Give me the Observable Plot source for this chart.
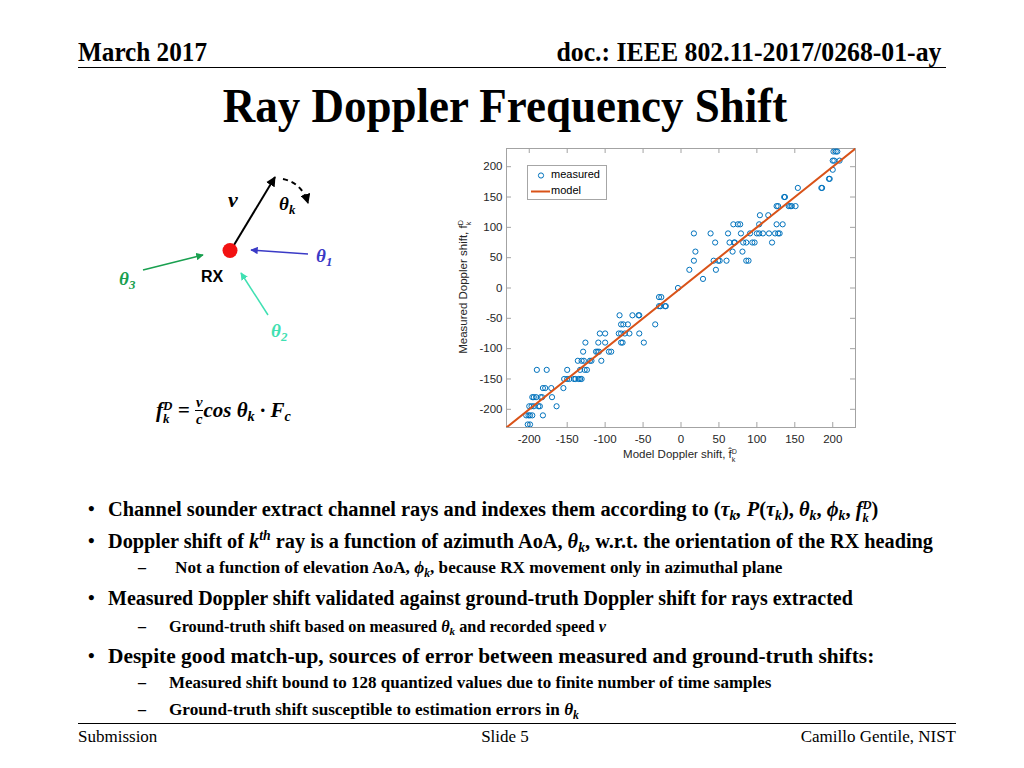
<!DOCTYPE html>
<html>
<head>
<meta charset="utf-8">
<script src="https://cdn.jsdelivr.net/npm/d3@7"></script>
<script src="https://cdn.jsdelivr.net/npm/@observablehq/plot@0.6"></script>
<style>
  html, body { margin: 0; padding: 0; background: #fff; }
  #slide { position: relative; width: 1024px; height: 768px; overflow: hidden; font-family: "Liberation Serif", "Times New Roman", serif; color: #000; }
  .abs { position: absolute; white-space: nowrap; }
  .hdr { font-weight: bold; font-size: 28px; line-height: 30px; }
  .rule { position: absolute; height: 0; border-top: 1.5px solid #000; }
  .title { font-weight: bold; font-size: 45px; line-height: 50px; text-align: center; transform: scaleY(1.1); }
  .b1 { font-weight: bold; line-height: 24px; }
  .b2 { font-weight: bold; line-height: 20px; }
  .m { font-style: italic; font-weight: bold; }
  .ss { display: inline-block; vertical-align: -0.5em; line-height: 1.05; font-size: 0.62em; text-align: left; }
  .ss > span { display: block; }
  sub.k, sup.k { font-size: 0.68em; line-height: 0; }
  sub.k { vertical-align: -0.3em; }
  sup.k { vertical-align: 0.55em; }
  .foot { font-size: 17px; line-height: 20px; }
  .axl { font-family: "Liberation Sans", Arial, sans-serif; font-size: 11.5px; color: #262626; }
  .leg { position: absolute; border: 1px solid #a6a6a6; background: #fff; font-family: "Liberation Sans", Arial, sans-serif; font-size: 11px; color: #000; }
</style>
</head>
<body>
<div id="slide">
  <div class="abs hdr" style="left:78px; top:37px; transform: scaleX(0.9); transform-origin: left center;">March 2017</div>
  <div class="abs hdr" style="right:83px; top:37px; transform: scaleX(0.92); transform-origin: right center;">doc.: IEEE 802.11-2017/0268-01-ay</div>
  <div class="rule" style="left:78px; width:868px; top:67px;"></div>
  <div class="abs title" style="left:0; width:1010px; top:80px;">Ray Doppler Frequency Shift</div>

  <!-- diagram -->
  <svg class="abs" style="left:0; top:0;" width="440" height="440">
    <defs>
      <marker id="ab" viewBox="0 0 10 10" refX="9" refY="5" markerWidth="5" markerHeight="5" orient="auto"><path d="M0,0L10,5L0,10z" fill="#000"/></marker>
      <marker id="a1" viewBox="0 0 10 10" refX="9" refY="5" markerWidth="5" markerHeight="5" orient="auto"><path d="M0,0L10,5L0,10z" fill="#3a3ac6"/></marker>
      <marker id="a2" viewBox="0 0 10 10" refX="9" refY="5" markerWidth="5" markerHeight="5" orient="auto"><path d="M0,0L10,5L0,10z" fill="#3fe0b2"/></marker>
      <marker id="a3" viewBox="0 0 10 10" refX="9" refY="5" markerWidth="5" markerHeight="5" orient="auto"><path d="M0,0L10,5L0,10z" fill="#19a04f"/></marker>
    </defs>
    <line x1="234" y1="245" x2="275" y2="177" stroke="#000" stroke-width="2" marker-end="url(#ab)"/>
    <path d="M283,179 Q302,183 308,203" fill="none" stroke="#000" stroke-width="2" stroke-dasharray="5,4" marker-end="url(#ab)"/>
    <line x1="308" y1="254" x2="251" y2="250" stroke="#3a3ac6" stroke-width="1.5" marker-end="url(#a1)"/>
    <line x1="268" y1="315" x2="241" y2="273" stroke="#3fe0b2" stroke-width="1.5" marker-end="url(#a2)"/>
    <line x1="143" y1="270" x2="203" y2="255" stroke="#19a04f" stroke-width="1.5" marker-end="url(#a3)"/>
    <circle cx="230" cy="250.5" r="7.5" fill="#f21212"/>
  </svg>
  <div class="abs m" style="left:228px; top:187px; font-size:22px;">v</div>
  <div class="abs m" style="left:279px; top:193px; font-size:19px;">θ<sub class="k">k</sub></div>
  <div class="abs m" style="left:316px; top:245px; font-size:19px; color:#3a3ac6;">θ<sub class="k">1</sub></div>
  <div class="abs m" style="left:271px; top:320px; font-size:19px; color:#3fe0b2;">θ<sub class="k">2</sub></div>
  <div class="abs m" style="left:119px; top:268px; font-size:19px; color:#19a04f;">θ<sub class="k">3</sub></div>
  <div class="abs" style="left:201px; top:268px; font-family:'Liberation Sans',Arial,sans-serif; font-weight:bold; font-size:16px;">RX</div>
  <div class="abs m" style="left:156px; top:394px; font-size:21px;">f<span class="ss"><span>D</span><span>k</span></span> = <span style="display:inline-block; vertical-align:-0.5em; text-align:center; font-size:0.7em; line-height:1.1;"><span style="display:block; border-bottom:1px solid #000; padding:0 1px;">v</span><span style="display:block;">c</span></span><span style="font-style:italic;">cos</span> θ<sub class="k">k</sub> · F<sub class="k">c</sub></div>

  <!-- chart -->
  <div id="chart" class="abs" style="left:440px; top:140px;"></div>
  <div class="abs axl" style="left:465px; top:287px; transform: translate(-50%,-50%) rotate(-90deg);">Measured Doppler shift, f<span class="ss"><span>D</span><span>k</span></span></div>
  <div class="abs axl" style="left:680px; top:456px; transform: translate(-50%,-50%);">Model Doppler shift, f&#770;<span class="ss"><span>D</span><span>k</span></span></div>
  <div class="leg" style="left:527px; top:165px; width:78px; height:33px;">
    <svg class="abs" style="left:0; top:0;" width="26" height="33">
      <circle cx="13" cy="9.5" r="2.6" fill="none" stroke="#0072BD" stroke-width="1"/>
      <line x1="3" y1="25.5" x2="22" y2="25.5" stroke="#D95319" stroke-width="2"/>
    </svg>
    <div class="abs" style="left:23px; top:2px;">measured</div>
    <div class="abs" style="left:23px; top:18px;">model</div>
  </div>

  <!-- bullets -->
  <div class="abs b1" style="left:88px; top:497px; font-size:19px;">•</div>
  <div class="abs b1" style="left:108px; top:497px; font-size:20.4px;">Channel sounder extract channel rays and indexes them according to (<span class="m">τ<sub class="k">k</sub>, P</span>(<span class="m">τ<sub class="k">k</sub></span>), <span class="m">θ<sub class="k">k</sub></span>, <span class="m">ϕ<sub class="k">k</sub></span>, <span class="m">f<span class="ss"><span>D</span><span>k</span></span></span>)</div>
  <div class="abs b1" style="left:88px; top:529px; font-size:19px;">•</div>
  <div class="abs b1" style="left:108px; top:529px; font-size:20.3px;">Doppler shift of <span class="m">k<sup class="k">th</sup></span> ray is a function of azimuth AoA, <span class="m">θ<sub class="k">k</sub></span>, w.r.t. the orientation of the RX heading</div>
  <div class="abs b2" style="left:138px; top:558px; font-size:16px;">–</div>
  <div class="abs b2" style="left:175px; top:558px; font-size:17.2px;">Not a function of elevation AoA, <span class="m">ϕ<sub class="k">k</sub></span>, because RX movement only in azimuthal plane</div>
  <div class="abs b1" style="left:88px; top:586px; font-size:19px;">•</div>
  <div class="abs b1" style="left:108px; top:586px; font-size:20px;">Measured Doppler shift validated against ground-truth Doppler shift for rays extracted</div>
  <div class="abs b2" style="left:138px; top:617px; font-size:16px;">–</div>
  <div class="abs b2" style="left:169px; top:617px; font-size:16.3px;">Ground-truth shift based on measured <span class="m">θ<sub class="k">k</sub></span> and recorded speed <span class="m">v</span></div>
  <div class="abs b1" style="left:88px; top:644px; font-size:19px;">•</div>
  <div class="abs b1" style="left:108px; top:644px; font-size:21.4px;">Despite good match-up, sources of error between measured and ground-truth shifts:</div>
  <div class="abs b2" style="left:138px; top:673px; font-size:16px;">–</div>
  <div class="abs b2" style="left:169px; top:673px; font-size:17px;">Measured shift bound to 128 quantized values due to finite number of time samples</div>
  <div class="abs b2" style="left:138px; top:700px; font-size:16px;">–</div>
  <div class="abs b2" style="left:169px; top:700px; font-size:17.2px;">Ground-truth shift susceptible to estimation errors in <span class="m">θ<sub class="k">k</sub></span></div>

  <div class="rule" style="left:78px; width:878px; top:723px;"></div>
  <div class="abs foot" style="left:78px; top:727px;">Submission</div>
  <div class="abs foot" style="left:0; width:1010px; text-align:center; top:727px;">Slide 5</div>
  <div class="abs foot" style="right:68px; top:727px;">Camillo Gentile, NIST</div>
</div>

<script>
// ---- data ----
const xTicks = [-200, -150, -100, -50, 0, 50, 100, 150, 200];
const yTicks = [-200, -150, -100, -50, 0, 50, 100, 150, 200];
const axisDomain = [-230, 230];

// measured rays: model Doppler shift (x) vs measured Doppler shift (y)
const modelShift = [
  201, 204, 206,
  200, 202, 209,
  200,
  195, 196,
  154, 185, 186,
  136, 137,
  126, 128, 142, 144, 146, 151,
  104, 115,
  69, 75, 78, 103, 126, 134,
  17, 39, 62, 79, 91, 100, 103, 108, 116, 124, 128, 130,
  45, 64, 70, 71, 82, 86, 94, 97, 120,
  19, 68, 81,
  17, 43, 49, 51, 60, 86, 89,
  11, 46,
  29,
  -4,
  -29, -26,
  -29, -27, -21, -20,
  -81, -64, -56, -55,
  -79, -76, -70, -34,
  -107, -100, -82, -79, -74, -68, -55,
  -126, -109, -100, -79, -77, -49,
  -129, -112, -110, -108, -95, -92,
  -136, -131, -128, -120, -118, -105,
  -190, -177, -150, -133, -127, -124,
  -154, -150, -147, -141, -139, -135, -133, -131,
  -182, -179, -171, -155,
  -196, -194, -191, -185, -183, -170,
  -200, -197, -194, -188, -186, -164,
  -204, -201, -199, -196, -182,
  -202, -199
];
const measuredShift = [
  225, 225, 225,
  210, 210, 210,
  195,
  180, 180,
  165, 165, 165,
  150, 150,
  135, 135, 135, 135, 135, 135,
  120, 120,
  105, 105, 105, 105, 105, 105,
  90, 90, 90, 90, 90, 90, 90, 90, 90, 90, 90, 90,
  75, 75, 75, 75, 75, 75, 75, 75, 75,
  60, 60, 60,
  45, 45, 45, 45, 45, 45, 45,
  30, 30,
  15,
  0,
  -15, -15,
  -30, -30, -30, -30,
  -45, -45, -45, -45,
  -60, -60, -60, -60,
  -75, -75, -75, -75, -75, -75, -75,
  -90, -90, -90, -90, -90, -90,
  -105, -105, -105, -105, -105, -105,
  -120, -120, -120, -120, -120, -120,
  -135, -135, -135, -135, -135, -135,
  -150, -150, -150, -150, -150, -150, -150, -150,
  -165, -165, -165, -165,
  -180, -180, -180, -180, -180, -180,
  -195, -195, -195, -195, -195, -195,
  -210, -210, -210, -210, -210,
  -225, -225
];
// model line f = f_hat
const modelLineX = [-230, 230];
const modelLineY = [-230, 230];

const points = modelShift.map((x, i) => ({x, y: measuredShift[i]}));
const modelLine = modelLineX.map((x, i) => ({x, y: modelLineY[i]}));

const W = 430, H = 330, mL = 66, mR = 15, mT = 8, mB = 43;
const fw = W - mL - mR, fh = H - mT - mB;
const axisGray = "#a3a3a3";

const chart = Plot.plot({
  width: W, height: H,
  marginLeft: mL, marginRight: mR, marginTop: mT, marginBottom: mB,
  x: {domain: axisDomain, label: null},
  y: {domain: axisDomain, label: null},
  style: {fontFamily: "'Liberation Sans', Arial, sans-serif", fontSize: "11.5px", color: "#262626", background: "transparent", overflow: "visible"},
  marks: [
    Plot.frame({stroke: axisGray}),
    Plot.tickX(xTicks, {x: d => d, insetTop: fh - 5, stroke: axisGray}),
    Plot.tickX(xTicks, {x: d => d, insetBottom: fh - 5, stroke: axisGray}),
    Plot.tickY(yTicks, {y: d => d, insetRight: fw - 5, stroke: axisGray}),
    Plot.tickY(yTicks, {y: d => d, insetLeft: fw - 5, stroke: axisGray}),
    Plot.axisX(xTicks, {tickSize: 0, tickPadding: 7, tickFormat: d => String(d), label: null, fill: "#262626"}),
    Plot.axisY(yTicks, {tickSize: 0, tickPadding: 4, tickFormat: d => String(d), label: null, fill: "#262626"}),
    Plot.dot(points, {x: "x", y: "y", r: 2.6, stroke: "#0072BD", strokeWidth: 1, fill: "none", clip: true}),
    Plot.line(modelLine, {x: "x", y: "y", stroke: "#D95319", strokeWidth: 2, clip: true})
  ]
});
document.getElementById("chart").appendChild(chart);
</script>
</body>
</html>
